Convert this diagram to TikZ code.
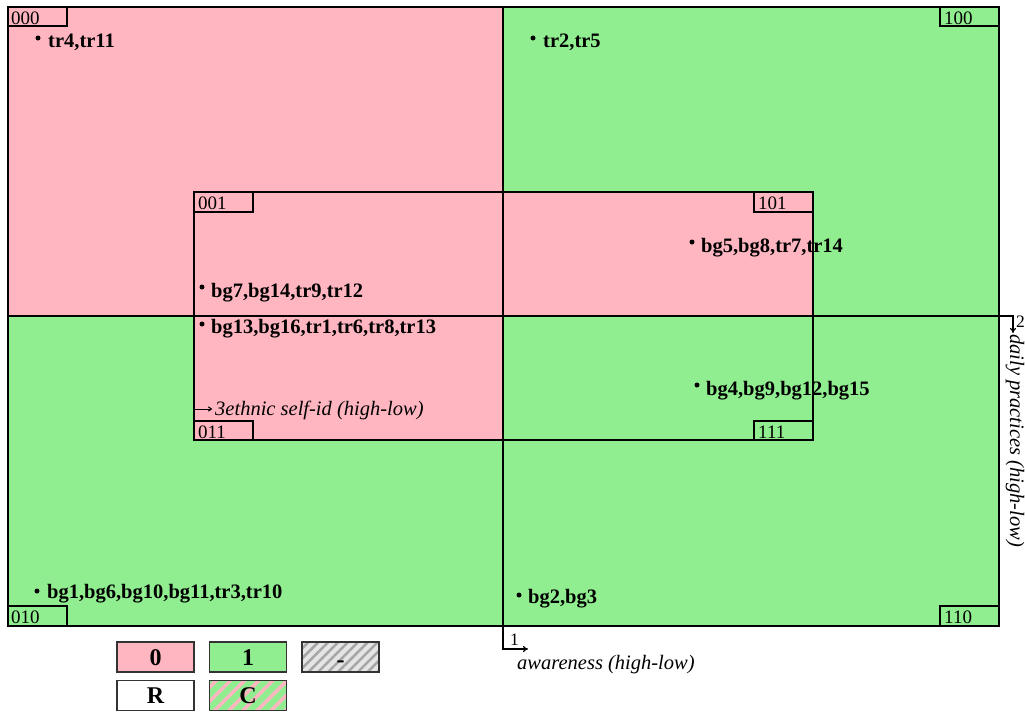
\documentclass[tikz,border=0pt]{standalone}
\usepackage{fontspec}
\setmainfont{Liberation Serif}
\usetikzlibrary{patterns.meta,arrows.meta}
\definecolor{lpink}{HTML}{FFB6C1}
\definecolor{lgreen}{HTML}{90EE90}
\begin{document}
\begin{tikzpicture}[x=1pt,y=-1pt,
  frame/.style={draw=black, line width=1.3pt},
  code/.style={anchor=base west, inner sep=0pt, font=\fontsize{19}{22}\selectfont},
  lbl/.style={anchor=base west, inner sep=0pt, font=\fontsize{20.5}{24}\selectfont\bfseries},
  pt/.style={circle, fill=black, inner sep=0pt, minimum size=5pt},
  axislbl/.style={anchor=base west, inner sep=0pt, font=\fontsize{20.5}{24}\selectfont\itshape},
  legendbox/.style={draw=black!80, line width=1.5pt, minimum width=77pt, minimum height=30pt, inner sep=0pt},
  legendtext/.style={anchor=base, inner sep=0pt, font=\fontsize{24}{26}\selectfont\bfseries},
  axisarrow/.style={draw=black, line width=1.3pt, -{To[length=5pt,width=6pt]}},
]
\useasboundingbox (0,0) rectangle (1025,713);
% regions
\fill[lpink] (8,7) rectangle (503,316);
\fill[lgreen] (503,7) rectangle (999,316);
\fill[lgreen] (8,316) rectangle (999,626);
\fill[lpink] (194,192) rectangle (813,316);
\fill[lpink] (194,316) rectangle (503,440);
% frames
\draw[frame] (8,7) rectangle (999,626);
\draw[frame] (194,192) rectangle (813,440);
% code boxes
\draw[frame] (8,7) rectangle (67,26);
\draw[frame] (940,7) rectangle (999,26);
\draw[frame] (8,606) rectangle (67,626);
\draw[frame] (940,606) rectangle (999,626);
\draw[frame] (194,192) rectangle (253,212);
\draw[frame] (754,192) rectangle (813,212);
\draw[frame] (194,421) rectangle (253,440);
\draw[frame] (754,421) rectangle (813,440);
\node[code] (c000) at (11,24) {000};
\node[code] (c100) at (944,24) {100};
\node[code] (c010) at (11,623) {010};
\node[code] (c110) at (944,623) {110};
\node[code] (c001) at (198,209) {001};
\node[code] (c101) at (758,209) {101};
\node[code] (c011) at (198,438) {011};
\node[code] (c111) at (758,438) {111};
% axes
\coordinate (hs) at (8,316);
\coordinate (hb) at (1013,316);
\coordinate (he) at (1013,333);
\draw[axisarrow] (hs) -- (hb) -- (he);
\node[anchor=base west, inner sep=0pt, font=\fontsize{17.5}{20}\selectfont] (two) at (1016,327) {2};
\node[axislbl, rotate=-90] (ax2) at (1010,334) {daily practices (high-low)};
\coordinate (vs) at (503,7);
\coordinate (vb) at (503,649);
\coordinate (ve) at (528,649);
\draw[axisarrow] (vs) -- (vb) -- (ve);
\node[anchor=base west, inner sep=0pt, font=\fontsize{17.5}{20}\selectfont] (one) at (510,645) {1};
\node[axislbl] (ax1) at (517,669) {awareness (high-low)};
\coordinate (as) at (195,409);
\coordinate (ae) at (212,409);
\draw[draw=black, line width=1pt, -{To[length=4pt,width=5pt]}] (as) -- (ae);
\node[axislbl] (ax3) at (215,415) {3ethnic self-id (high-low)};
% points
\node[pt] (p1) at (38,38) {};
\node[lbl] (l1) at (48,47) {tr4,tr11};
\node[pt] (p2) at (533,38) {};
\node[lbl] (l2) at (543,47) {tr2,tr5};
\node[pt] (p3) at (202,287) {};
\node[lbl] (l3) at (211,297) {bg7,bg14,tr9,tr12};
\node[pt] (p4) at (202,324) {};
\node[lbl] (l4) at (211,333) {bg13,bg16,tr1,tr6,tr8,tr13};
\node[pt] (p5) at (692,242) {};
\node[lbl] (l5) at (701,252) {bg5,bg8,tr7,tr14};
\node[pt] (p6) at (697,385) {};
\node[lbl] (l6) at (706,395) {bg4,bg9,bg12,bg15};
\node[pt] (p7) at (37,591) {};
\node[lbl] (l7) at (47,598) {bg1,bg6,bg10,bg11,tr3,tr10};
\node[pt] (p8) at (519,595) {};
\node[lbl] (l8) at (528,603) {bg2,bg3};
% legend
\node[legendbox, fill=lpink] (g0) at (155.5,657) {};
\node[legendbox, fill=lgreen] (g1) at (248,657) {};
\node[legendbox, preaction={fill=black!10}, pattern={Lines[angle=45,distance=7pt,line width=2.5pt]}, pattern color=black!35] (gd) at (340.5,657) {};
\node[legendbox, fill=white] (gr) at (155.5,695.5) {};
\node[legendbox, preaction={fill=lgreen}, pattern={Lines[angle=45,distance=10pt,line width=3.5pt]}, pattern color=lpink] (gc) at (248,695.5) {};
\node[legendtext] (g0t) at ([yshift=-8pt]g0.center) {0};
\node[legendtext] (g1t) at ([yshift=-8pt]g1.center) {1};
\node[legendtext] (gdt) at ([yshift=-10pt]gd.center) {-};
\node[legendtext] (grt) at ([yshift=-8pt]gr.center) {R};
\node[legendtext] (gct) at ([yshift=-8pt]gc.center) {C};
\end{tikzpicture}
\end{document}
